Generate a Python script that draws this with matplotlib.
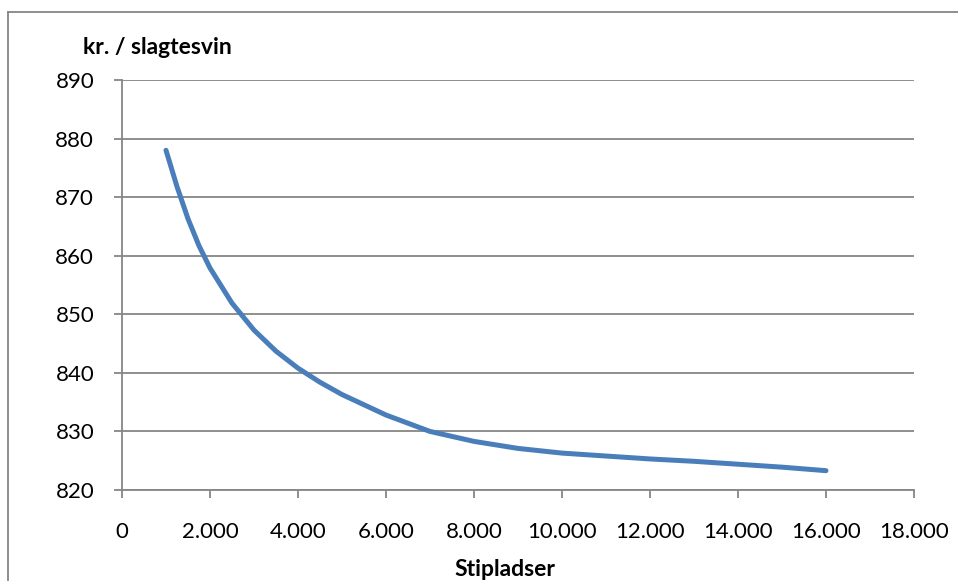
import matplotlib

matplotlib.use("Agg")

import matplotlib.pyplot as plt
from matplotlib.lines import Line2D
from matplotlib.ticker import FuncFormatter, MultipleLocator

# values
stipladser = [1000, 1250, 1500, 1750, 2000, 2500, 3000, 3500, 4000, 4500, 5000,
              6000, 7000, 8000, 9000, 10000, 11000, 12000, 13000, 14000, 15000, 16000]
kr_per_svin = [878.0, 871.8, 866.3, 861.7, 857.9, 851.9, 847.3, 843.7, 840.8, 838.4,
               836.3, 832.8, 830.0, 828.3, 827.1, 826.3, 825.8, 825.3, 824.9, 824.4,
               823.9, 823.3]

grid_col = "#868686"
line_col = "#4A7EBB"

plt.rcParams["font.family"] = ["Lato", "DejaVu Sans"]

fig = plt.figure(figsize=(9.58, 5.81), dpi=100)
ax = fig.add_axes((122 / 958, 91 / 581, 792 / 958, 410 / 581))

ax.plot(stipladser, kr_per_svin, color=line_col, linewidth=3.6,
        solid_capstyle="round", solid_joinstyle="round")

ax.set_xlim(0, 18000)
ax.set_ylim(820, 890)
ax.xaxis.set_major_locator(MultipleLocator(2000))
ax.yaxis.set_major_locator(MultipleLocator(10))
ax.xaxis.set_major_formatter(FuncFormatter(lambda v, _: f"{int(v):,}".replace(",", ".")))

ax.grid(axis="y", color=grid_col, linewidth=1.3)
ax.set_axisbelow(True)
for side in ("top", "right"):
    ax.spines[side].set_visible(False)
for side in ("left", "bottom"):
    ax.spines[side].set_color(grid_col)
    ax.spines[side].set_linewidth(1.3)
ax.tick_params(axis="both", colors=grid_col, width=1.3, length=6, labelsize=16,
               labelcolor="black")
ax.tick_params(axis="x", pad=17)
ax.tick_params(axis="y", pad=14)

fig.text(83 / 958, 1 - 47 / 581, "kr. / slagtesvin", fontsize=16.5,
         fontweight="bold", ha="left", va="center")
fig.text(505 / 958, 1 - 569 / 581, "Stipladser", fontsize=16.5,
         fontweight="bold", ha="center", va="center")

# chart area frame (Excel style)
fig.add_artist(Line2D([8 / 958, 8 / 958], [0, 1 - 12 / 581], color=grid_col, linewidth=1.3))
fig.add_artist(Line2D([8 / 958, 1], [1 - 12 / 581, 1 - 12 / 581], color=grid_col, linewidth=1.3))

fig.savefig("out.png", dpi=100)
plt.close(fig)
